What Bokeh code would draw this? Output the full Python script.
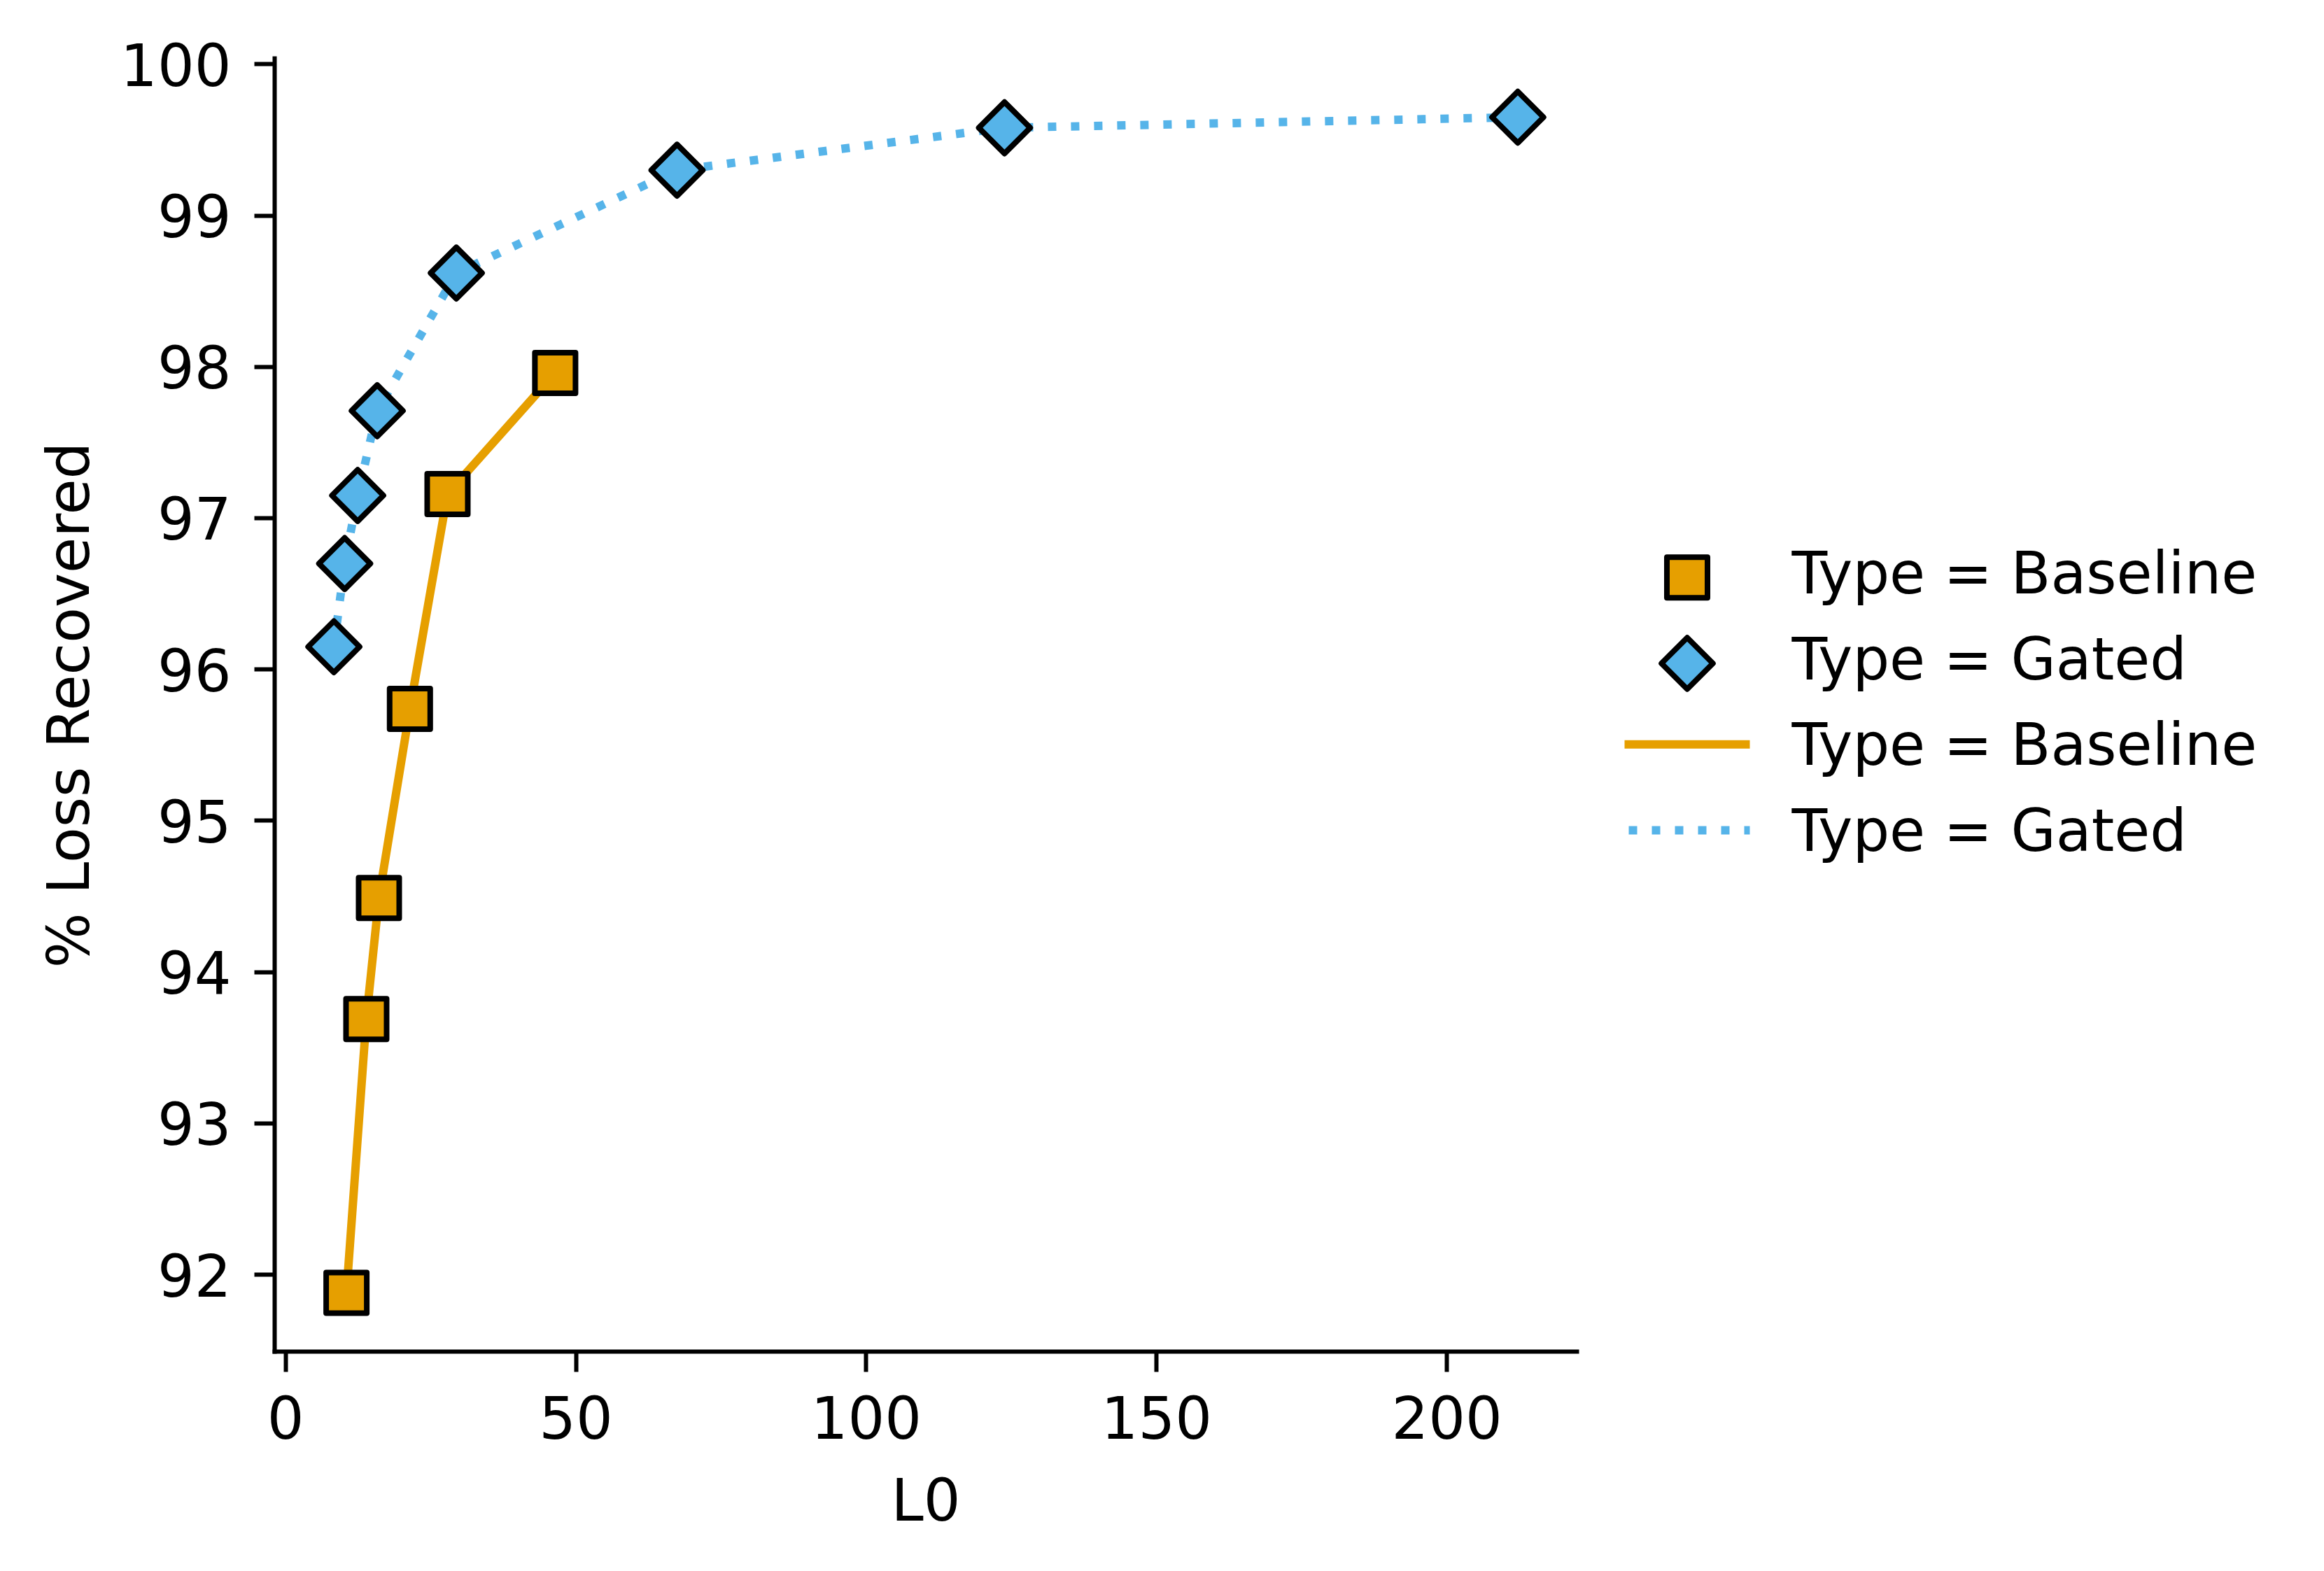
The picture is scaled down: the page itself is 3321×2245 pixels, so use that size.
import math
from bokeh.plotting import figure
from bokeh.models import Range1d, FixedTicker
from bokeh.layouts import row
from bokeh.embed import file_html
from bokeh.resources import INLINE
from bokeh.core.properties import value

# ---------------- data ----------------
baseline_l0 = [10.47, 13.89, 16.06, 21.40, 27.87, 46.42]
baseline_rec = [91.88, 93.69, 94.49, 95.74, 97.16, 97.96]
gated_l0 = [8.30, 10.16, 12.40, 15.77, 29.39, 67.40, 123.80, 212.20]
gated_rec = [96.15, 96.70, 97.15, 97.71, 98.62, 99.30, 99.58, 99.65]

x_ticks = [0, 50, 100, 150, 200]
y_ticks = [92, 93, 94, 95, 96, 97, 98, 99, 100]
x_label = "L0"
y_label = "% Loss Recovered"
legend_labels = ["Type = Baseline", "Type = Gated", "Type = Baseline", "Type = Gated"]

# ---------------- style ----------------
ORANGE = "#E69F00"
BLUE = "#56B4E9"
FONT = "DejaVu Sans"
FS = "83px"


def padded(vals, frac=0.05):
    lo, hi = min(vals), max(vals)
    m = (hi - lo) * frac
    return lo - m, hi + m


xr = padded(baseline_l0 + gated_l0)
yr = padded(baseline_rec + gated_rec)

TOTAL_W, H = 3313, 2237
FR_LEFT, FR_TOP, FR_RIGHT, FR_BOTTOM = 392, 83, 2253, 1931
BORDER_R = 12
MAIN_W = FR_RIGHT + BORDER_R

p = figure(width=MAIN_W, height=H, x_range=Range1d(*xr), y_range=Range1d(*yr),
           output_backend="svg", toolbar_location=None,
           min_border_left=FR_LEFT, min_border_top=FR_TOP, min_border_right=BORDER_R,
           min_border_bottom=H - FR_BOTTOM, x_axis_label=x_label, y_axis_label=y_label)
p.grid.visible = False
p.outline_line_color = None
p.background_fill_color = "white"
p.border_fill_color = "white"

for ax in p.axis:
    ax.axis_line_width = 6
    ax.axis_line_color = "black"
    ax.axis_line_cap = "square"
    ax.major_tick_line_width = 6
    ax.major_tick_line_color = "black"
    ax.major_tick_out = 29
    ax.major_tick_in = 0
    ax.minor_tick_out = 0
    ax.minor_tick_in = 0
    ax.major_label_text_font = FONT
    ax.major_label_text_font_size = FS
    ax.major_label_text_color = "black"
    ax.axis_label_text_font = FONT
    ax.axis_label_text_font_size = FS
    ax.axis_label_text_font_style = "normal"
    ax.axis_label_text_color = "black"

p.xaxis.ticker = FixedTicker(ticks=x_ticks)
p.yaxis.ticker = FixedTicker(ticks=y_ticks)
p.xaxis.major_label_standoff = 33
p.xaxis.axis_label_standoff = 37
p.yaxis.major_label_standoff = 33
p.yaxis.axis_label_standoff = 22

p.line(baseline_l0, baseline_rec, line_color=ORANGE, line_width=12, line_join="round")
p.line(gated_l0, gated_rec, line_color=BLUE, line_width=12, line_dash="12 21")
p.scatter(baseline_l0, baseline_rec, marker="square", size=58, fill_color=ORANGE,
          line_color="black", line_width=8, line_join="round")
p.scatter(gated_l0, gated_rec, marker="square", angle=math.pi / 4, size=52,
          fill_color=BLUE, line_color="black", line_width=8, line_join="round")

# ---------------- legend panel (page pixel coordinates) ----------------
LEG_W = TOTAL_W - MAIN_W
leg = figure(width=LEG_W, height=H, x_range=Range1d(MAIN_W, TOTAL_W),
             y_range=Range1d(FR_BOTTOM, FR_TOP),
             output_backend="svg", toolbar_location=None,
             min_border_left=0, min_border_right=0,
             min_border_top=FR_TOP, min_border_bottom=H - FR_BOTTOM,
             x_axis_location=None, y_axis_location=None)
leg.grid.visible = False
leg.outline_line_color = None
leg.background_fill_color = "white"
leg.border_fill_color = "white"

first_base = 848.7
pitch = 122.8
bases = [first_base + i * pitch for i in range(4)]
gcx = 2410.5
gx0, gx1 = 2321, 2500
tx = 2560
text_shift = 30

leg.scatter([gcx], [bases[0] - 24], marker="square", size=58, fill_color=ORANGE,
            line_color="black", line_width=8, line_join="round")
leg.scatter([gcx], [bases[1] - 24], marker="square", angle=math.pi / 4, size=52,
            fill_color=BLUE, line_color="black", line_width=8, line_join="round")
leg.line([gx0, gx1], [bases[2] - 31, bases[2] - 31], line_color=ORANGE, line_width=12)
leg.line([gx0 + 6, gx1], [bases[3] - 31, bases[3] - 31], line_color=BLUE, line_width=12,
         line_dash="12 21")
leg.text(x=[tx] * 4, y=[b - text_shift for b in bases], text=legend_labels,
         text_font=value(FONT), text_font_size=FS, text_align="left",
         text_baseline="alphabetic", text_color="black")

layout = row(p, leg)
open("out.html", "w").write(file_html(layout, INLINE))
